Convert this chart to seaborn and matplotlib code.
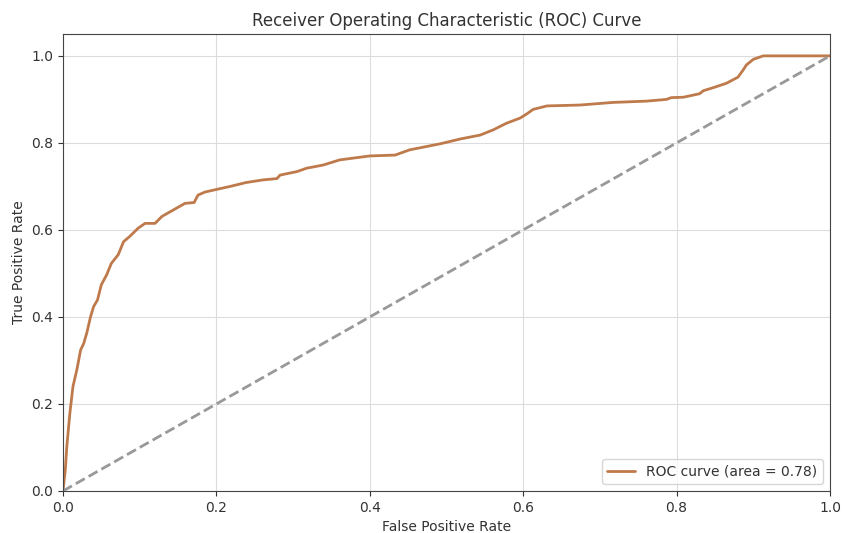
import matplotlib
matplotlib.use("Agg")
import matplotlib.pyplot as plt
import seaborn as sns
import pandas as pd

fpr = [0.0, 0.003, 0.005, 0.009, 0.013, 0.018, 0.023, 0.027, 0.031, 0.036, 0.040,
       0.045, 0.050, 0.057, 0.063, 0.072, 0.079, 0.087, 0.098, 0.107, 0.120, 0.129,
       0.144, 0.159, 0.171, 0.176, 0.185, 0.200, 0.218, 0.239, 0.261, 0.279, 0.283,
       0.305, 0.318, 0.339, 0.361, 0.400, 0.433, 0.452, 0.492, 0.518, 0.544, 0.561,
       0.578, 0.596, 0.605, 0.613, 0.631, 0.674, 0.717, 0.761, 0.787, 0.793, 0.809,
       0.830, 0.835, 0.848, 0.865, 0.880, 0.887, 0.891, 0.900, 0.913, 1.0]
tpr = [0.0, 0.048, 0.102, 0.179, 0.240, 0.278, 0.324, 0.339, 0.363, 0.401, 0.424,
       0.439, 0.474, 0.497, 0.523, 0.543, 0.573, 0.585, 0.604, 0.615, 0.615, 0.631,
       0.646, 0.661, 0.663, 0.680, 0.687, 0.693, 0.700, 0.709, 0.715, 0.718, 0.726,
       0.734, 0.742, 0.749, 0.761, 0.770, 0.772, 0.784, 0.798, 0.809, 0.818, 0.830,
       0.845, 0.857, 0.867, 0.877, 0.885, 0.887, 0.893, 0.896, 0.900, 0.904, 0.905,
       0.913, 0.920, 0.927, 0.937, 0.951, 0.968, 0.979, 0.992, 1.0, 1.0]
roc_auc = 0.78
diag = [0.0, 1.0]

sns.set_theme(style="ticks", rc={"axes.grid": True, "grid.color": "#dcdcdc",
                                  "grid.linewidth": 0.8,
                                  "xtick.major.size": 3.5, "ytick.major.size": 3.5,
                                  "xtick.major.width": 0.8, "ytick.major.width": 0.8,
                                  "xtick.major.pad": 3.5, "ytick.major.pad": 3.5,
                                  "axes.linewidth": 0.8,
                                  "axes.edgecolor": "#444444",
                                  "text.color": "#333333",
                                  "axes.labelcolor": "#333333",
                                  "xtick.color": "#333333", "ytick.color": "#333333"})
plt.rcParams['font.family'] = ['DejaVu Sans']

fig, ax = plt.subplots(figsize=(8.42, 5.33), dpi=100)
fig.subplots_adjust(left=0.0748, right=0.9857, top=0.936, bottom=0.0788)

df = pd.DataFrame({"fpr": fpr, "tpr": tpr})
sns.lineplot(data=df, x="fpr", y="tpr", ax=ax, color="#bf7a4c", lw=2,
             label=f"ROC curve (area = {roc_auc:.2f})", sort=False, estimator=None)
ax.plot(diag, diag, color="#999999", lw=2, linestyle="--")

ax.set_xlim(0.0, 1.0)
ax.set_ylim(0.0, 1.05)
ax.set_xlabel("False Positive Rate", fontsize=10)
ax.set_ylabel("True Positive Rate", fontsize=10)
ax.set_title("Receiver Operating Characteristic (ROC) Curve", fontsize=12)
ax.tick_params(labelsize=10)
ax.legend(loc="lower right", fontsize=10)
for s in ax.spines.values():
    s.set_visible(True)

fig.savefig("out.png", dpi=100)
